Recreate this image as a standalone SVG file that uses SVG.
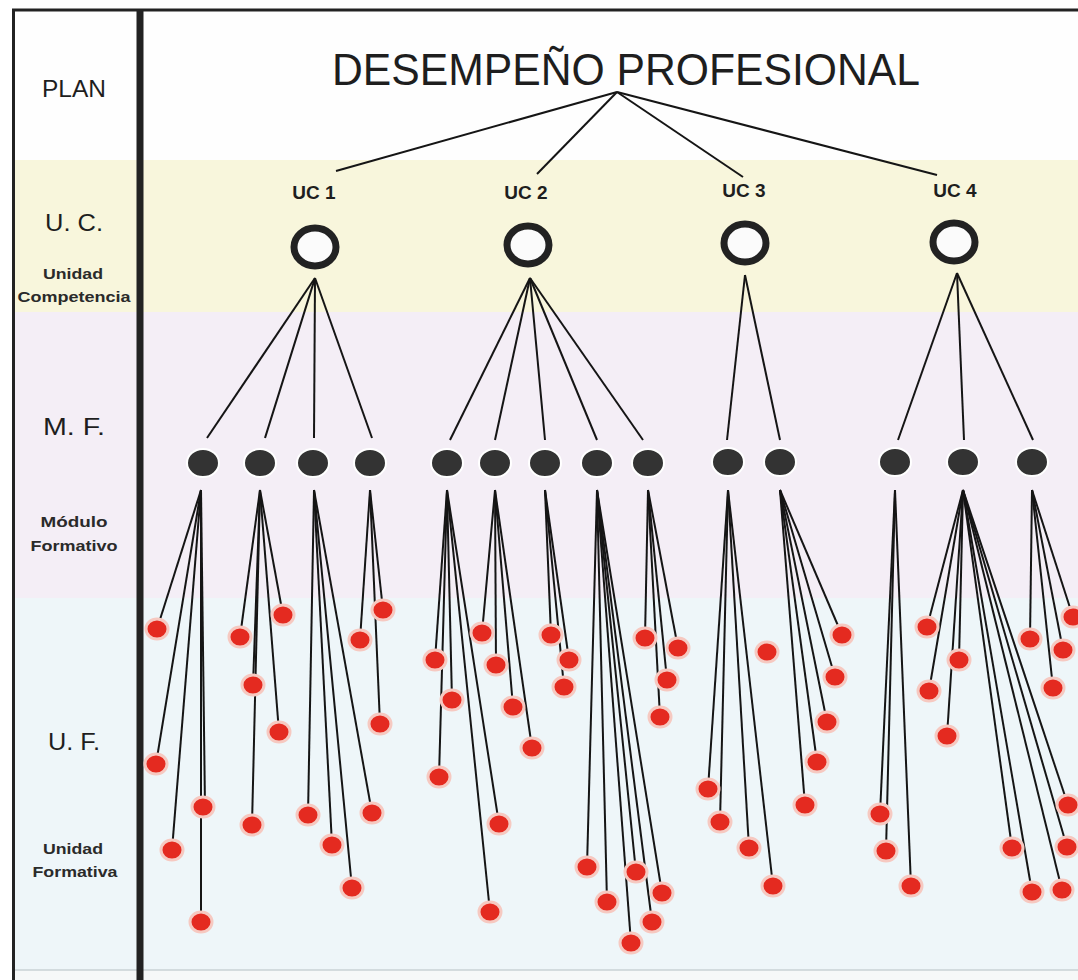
<svg xmlns="http://www.w3.org/2000/svg" width="1078" height="980" viewBox="0 0 1078 980">
<style>
.t{font-family:"Liberation Sans",Arial,sans-serif;fill:#1e1e1e}
.lbl{font-size:24px;text-anchor:middle}
.sm{font-size:15px;font-weight:bold;text-anchor:middle;fill:#2a2a2a}
.ucl{font-size:19px;font-weight:bold;text-anchor:middle}
.ln{stroke:#151515;stroke-width:2;fill:none}
.rd{fill:#e42a20;stroke:#f6c9c1;stroke-width:3}
.mf{fill:#333;stroke:#fff;stroke-width:2}
.uc{fill:#fbfbfb;stroke:#222;stroke-width:7}
</style>
<rect x="0" y="0" width="1078" height="980" fill="#fff"/>
<g id="bands">
<rect x="13" y="10" width="1065" height="150" fill="#fefefe"/>
<rect x="13" y="160" width="1065" height="152" fill="#f8f6dc"/>
<rect x="13" y="312" width="1065" height="286" fill="#f4eef6"/>
<rect x="13" y="598" width="1065" height="372" fill="#eef6f9"/>
<rect x="13" y="970" width="1065" height="10" fill="#f6f8f8"/>
<line x1="13" y1="970" x2="1078" y2="970" stroke="#c9d2d4" stroke-width="1.5"/>
</g>
<g id="frame" stroke="#222">
<line x1="12" y1="10" x2="1078" y2="10" stroke-width="3"/>
<line x1="13.5" y1="10" x2="13.5" y2="980" stroke-width="3"/>
<line x1="140" y1="10" x2="140" y2="980" stroke-width="7"/>
</g>
<g id="row-labels" class="t">
<text class="lbl" x="74" y="97" textLength="64" lengthAdjust="spacingAndGlyphs">PLAN</text>
<text class="lbl" x="74" y="231" textLength="58" lengthAdjust="spacingAndGlyphs">U. C.</text>
<text class="sm" x="73" y="279" textLength="60" lengthAdjust="spacingAndGlyphs">Unidad</text>
<text class="sm" x="74" y="302" textLength="113" lengthAdjust="spacingAndGlyphs">Competencia</text>
<text class="lbl" x="74" y="435" textLength="62" lengthAdjust="spacingAndGlyphs">M. F.</text>
<text class="sm" x="74" y="527" textLength="67" lengthAdjust="spacingAndGlyphs">Módulo</text>
<text class="sm" x="74" y="551" textLength="87" lengthAdjust="spacingAndGlyphs">Formativo</text>
<text class="lbl" x="74" y="750" textLength="52" lengthAdjust="spacingAndGlyphs">U. F.</text>
<text class="sm" x="73" y="854" textLength="60" lengthAdjust="spacingAndGlyphs">Unidad</text>
<text class="sm" x="75" y="877" textLength="85" lengthAdjust="spacingAndGlyphs">Formativa</text>
</g>
<g id="connectors" class="ln">
<line x1="617" y1="92" x2="336" y2="171"/>
<line x1="617" y1="92" x2="537" y2="174"/>
<line x1="617" y1="92" x2="743" y2="177"/>
<line x1="617" y1="92" x2="937" y2="175"/>
<line x1="315" y1="278" x2="207" y2="438"/>
<line x1="315" y1="278" x2="265" y2="438"/>
<line x1="315" y1="278" x2="314" y2="438"/>
<line x1="315" y1="278" x2="372" y2="438"/>
<line x1="530" y1="278" x2="450" y2="440"/>
<line x1="530" y1="278" x2="495" y2="440"/>
<line x1="530" y1="278" x2="545" y2="440"/>
<line x1="530" y1="278" x2="597" y2="440"/>
<line x1="530" y1="278" x2="643" y2="440"/>
<line x1="745" y1="275" x2="727" y2="440"/>
<line x1="745" y1="275" x2="780" y2="440"/>
<line x1="957" y1="273" x2="898" y2="440"/>
<line x1="957" y1="273" x2="964" y2="440"/>
<line x1="957" y1="273" x2="1033" y2="440"/>
<line x1="201" y1="490" x2="157" y2="629"/>
<line x1="201" y1="490" x2="156" y2="764"/>
<line x1="201" y1="490" x2="172" y2="850"/>
<line x1="201" y1="490" x2="205" y2="807"/>
<line x1="201" y1="490" x2="201" y2="922"/>
<line x1="260" y1="490" x2="240" y2="637"/>
<line x1="260" y1="490" x2="283" y2="615"/>
<line x1="260" y1="490" x2="253" y2="685"/>
<line x1="260" y1="490" x2="279" y2="732"/>
<line x1="260" y1="490" x2="252" y2="825"/>
<line x1="314" y1="490" x2="308" y2="815"/>
<line x1="314" y1="490" x2="332" y2="845"/>
<line x1="314" y1="490" x2="352" y2="888"/>
<line x1="314" y1="490" x2="372" y2="813"/>
<line x1="370" y1="490" x2="360" y2="640"/>
<line x1="370" y1="490" x2="383" y2="610"/>
<line x1="370" y1="490" x2="380" y2="724"/>
<line x1="447" y1="490" x2="435" y2="660"/>
<line x1="447" y1="490" x2="452" y2="700"/>
<line x1="447" y1="490" x2="439" y2="777"/>
<line x1="447" y1="490" x2="499" y2="824"/>
<line x1="447" y1="490" x2="490" y2="912"/>
<line x1="495" y1="490" x2="482" y2="633"/>
<line x1="495" y1="490" x2="496" y2="665"/>
<line x1="495" y1="490" x2="513" y2="707"/>
<line x1="495" y1="490" x2="532" y2="748"/>
<line x1="545" y1="490" x2="551" y2="635"/>
<line x1="545" y1="490" x2="569" y2="660"/>
<line x1="545" y1="490" x2="564" y2="687"/>
<line x1="597" y1="490" x2="587" y2="867"/>
<line x1="597" y1="490" x2="607" y2="902"/>
<line x1="597" y1="490" x2="636" y2="872"/>
<line x1="597" y1="490" x2="662" y2="893"/>
<line x1="597" y1="490" x2="652" y2="922"/>
<line x1="597" y1="490" x2="631" y2="943"/>
<line x1="648" y1="490" x2="645" y2="638"/>
<line x1="648" y1="490" x2="678" y2="648"/>
<line x1="648" y1="490" x2="667" y2="680"/>
<line x1="648" y1="490" x2="660" y2="717"/>
<line x1="728" y1="490" x2="708" y2="789"/>
<line x1="728" y1="490" x2="720" y2="822"/>
<line x1="728" y1="490" x2="749" y2="848"/>
<line x1="728" y1="490" x2="773" y2="886"/>
<line x1="780" y1="490" x2="842" y2="635"/>
<line x1="780" y1="490" x2="835" y2="677"/>
<line x1="780" y1="490" x2="827" y2="722"/>
<line x1="780" y1="490" x2="817" y2="762"/>
<line x1="780" y1="490" x2="805" y2="805"/>
<line x1="895" y1="490" x2="880" y2="814"/>
<line x1="895" y1="490" x2="886" y2="851"/>
<line x1="895" y1="490" x2="911" y2="886"/>
<line x1="963" y1="490" x2="927" y2="627"/>
<line x1="963" y1="490" x2="959" y2="660"/>
<line x1="963" y1="490" x2="929" y2="691"/>
<line x1="963" y1="490" x2="947" y2="736"/>
<line x1="963" y1="490" x2="1012" y2="848"/>
<line x1="963" y1="490" x2="1032" y2="892"/>
<line x1="963" y1="490" x2="1062" y2="890"/>
<line x1="963" y1="490" x2="1067" y2="847"/>
<line x1="963" y1="490" x2="1068" y2="805"/>
<line x1="1032" y1="490" x2="1030" y2="639"/>
<line x1="1032" y1="490" x2="1073" y2="617"/>
<line x1="1032" y1="490" x2="1063" y2="650"/>
<line x1="1032" y1="490" x2="1053" y2="688"/>
</g>
<g id="title" class="t">
<text x="626" y="85" font-size="44" text-anchor="middle" textLength="588" lengthAdjust="spacingAndGlyphs">DESEMPEÑO PROFESIONAL</text>
</g>
<g id="uc1"><text class="t ucl" x="314" y="199">UC 1</text><ellipse class="uc" cx="315" cy="247" rx="21" ry="19"/></g>
<g id="uc2"><text class="t ucl" x="526" y="199">UC 2</text><ellipse class="uc" cx="528" cy="245" rx="21" ry="19"/></g>
<g id="uc3"><text class="t ucl" x="744" y="197">UC 3</text><ellipse class="uc" cx="745" cy="243" rx="21" ry="19"/></g>
<g id="uc4"><text class="t ucl" x="955" y="197">UC 4</text><ellipse class="uc" cx="954" cy="242" rx="21" ry="19"/></g>
<g id="mf1"><ellipse class="mf" cx="203" cy="463" rx="16" ry="14"/></g>
<g id="mf2"><ellipse class="mf" cx="260" cy="463" rx="16" ry="14"/></g>
<g id="mf3"><ellipse class="mf" cx="313" cy="463" rx="16" ry="14"/></g>
<g id="mf4"><ellipse class="mf" cx="370" cy="463" rx="16" ry="14"/></g>
<g id="mf5"><ellipse class="mf" cx="447" cy="463" rx="16" ry="14"/></g>
<g id="mf6"><ellipse class="mf" cx="495" cy="463" rx="16" ry="14"/></g>
<g id="mf7"><ellipse class="mf" cx="545" cy="463" rx="16" ry="14"/></g>
<g id="mf8"><ellipse class="mf" cx="597" cy="463" rx="16" ry="14"/></g>
<g id="mf9"><ellipse class="mf" cx="648" cy="463" rx="16" ry="14"/></g>
<g id="mf10"><ellipse class="mf" cx="728" cy="462" rx="16" ry="14"/></g>
<g id="mf11"><ellipse class="mf" cx="780" cy="462" rx="16" ry="14"/></g>
<g id="mf12"><ellipse class="mf" cx="895" cy="462" rx="16" ry="14"/></g>
<g id="mf13"><ellipse class="mf" cx="963" cy="462" rx="16" ry="14"/></g>
<g id="mf14"><ellipse class="mf" cx="1032" cy="462" rx="16" ry="14"/></g>
<g id="uf-mf1"><ellipse class="rd" cx="157" cy="629" rx="11" ry="10"/><ellipse class="rd" cx="156" cy="764" rx="11" ry="10"/><ellipse class="rd" cx="172" cy="850" rx="11" ry="10"/><ellipse class="rd" cx="203" cy="807" rx="11" ry="10"/><ellipse class="rd" cx="201" cy="922" rx="11" ry="10"/></g>
<g id="uf-mf2"><ellipse class="rd" cx="240" cy="637" rx="11" ry="10"/><ellipse class="rd" cx="283" cy="615" rx="11" ry="10"/><ellipse class="rd" cx="253" cy="685" rx="11" ry="10"/><ellipse class="rd" cx="279" cy="732" rx="11" ry="10"/><ellipse class="rd" cx="252" cy="825" rx="11" ry="10"/></g>
<g id="uf-mf3"><ellipse class="rd" cx="308" cy="815" rx="11" ry="10"/><ellipse class="rd" cx="332" cy="845" rx="11" ry="10"/><ellipse class="rd" cx="352" cy="888" rx="11" ry="10"/><ellipse class="rd" cx="372" cy="813" rx="11" ry="10"/></g>
<g id="uf-mf4"><ellipse class="rd" cx="360" cy="640" rx="11" ry="10"/><ellipse class="rd" cx="383" cy="610" rx="11" ry="10"/><ellipse class="rd" cx="380" cy="724" rx="11" ry="10"/></g>
<g id="uf-mf5"><ellipse class="rd" cx="435" cy="660" rx="11" ry="10"/><ellipse class="rd" cx="452" cy="700" rx="11" ry="10"/><ellipse class="rd" cx="439" cy="777" rx="11" ry="10"/><ellipse class="rd" cx="499" cy="824" rx="11" ry="10"/><ellipse class="rd" cx="490" cy="912" rx="11" ry="10"/></g>
<g id="uf-mf6"><ellipse class="rd" cx="482" cy="633" rx="11" ry="10"/><ellipse class="rd" cx="496" cy="665" rx="11" ry="10"/><ellipse class="rd" cx="513" cy="707" rx="11" ry="10"/><ellipse class="rd" cx="532" cy="748" rx="11" ry="10"/></g>
<g id="uf-mf7"><ellipse class="rd" cx="551" cy="635" rx="11" ry="10"/><ellipse class="rd" cx="569" cy="660" rx="11" ry="10"/><ellipse class="rd" cx="564" cy="687" rx="11" ry="10"/></g>
<g id="uf-mf8"><ellipse class="rd" cx="587" cy="867" rx="11" ry="10"/><ellipse class="rd" cx="607" cy="902" rx="11" ry="10"/><ellipse class="rd" cx="636" cy="872" rx="11" ry="10"/><ellipse class="rd" cx="662" cy="893" rx="11" ry="10"/><ellipse class="rd" cx="652" cy="922" rx="11" ry="10"/><ellipse class="rd" cx="631" cy="943" rx="11" ry="10"/></g>
<g id="uf-mf9"><ellipse class="rd" cx="645" cy="638" rx="11" ry="10"/><ellipse class="rd" cx="678" cy="648" rx="11" ry="10"/><ellipse class="rd" cx="667" cy="680" rx="11" ry="10"/><ellipse class="rd" cx="660" cy="717" rx="11" ry="10"/></g>
<g id="uf-mf10"><ellipse class="rd" cx="708" cy="789" rx="11" ry="10"/><ellipse class="rd" cx="720" cy="822" rx="11" ry="10"/><ellipse class="rd" cx="749" cy="848" rx="11" ry="10"/><ellipse class="rd" cx="773" cy="886" rx="11" ry="10"/></g>
<g id="uf-mf11"><ellipse class="rd" cx="842" cy="635" rx="11" ry="10"/><ellipse class="rd" cx="835" cy="677" rx="11" ry="10"/><ellipse class="rd" cx="827" cy="722" rx="11" ry="10"/><ellipse class="rd" cx="817" cy="762" rx="11" ry="10"/><ellipse class="rd" cx="805" cy="805" rx="11" ry="10"/></g>
<g id="uf-loose"><ellipse class="rd" cx="767" cy="652" rx="11" ry="10"/></g>
<g id="uf-mf12"><ellipse class="rd" cx="880" cy="814" rx="11" ry="10"/><ellipse class="rd" cx="886" cy="851" rx="11" ry="10"/><ellipse class="rd" cx="911" cy="886" rx="11" ry="10"/></g>
<g id="uf-mf13"><ellipse class="rd" cx="927" cy="627" rx="11" ry="10"/><ellipse class="rd" cx="959" cy="660" rx="11" ry="10"/><ellipse class="rd" cx="929" cy="691" rx="11" ry="10"/><ellipse class="rd" cx="947" cy="736" rx="11" ry="10"/><ellipse class="rd" cx="1012" cy="848" rx="11" ry="10"/><ellipse class="rd" cx="1032" cy="892" rx="11" ry="10"/><ellipse class="rd" cx="1062" cy="890" rx="11" ry="10"/><ellipse class="rd" cx="1067" cy="847" rx="11" ry="10"/><ellipse class="rd" cx="1068" cy="805" rx="11" ry="10"/></g>
<g id="uf-mf14"><ellipse class="rd" cx="1030" cy="639" rx="11" ry="10"/><ellipse class="rd" cx="1073" cy="617" rx="11" ry="10"/><ellipse class="rd" cx="1063" cy="650" rx="11" ry="10"/><ellipse class="rd" cx="1053" cy="688" rx="11" ry="10"/></g>
</svg>
